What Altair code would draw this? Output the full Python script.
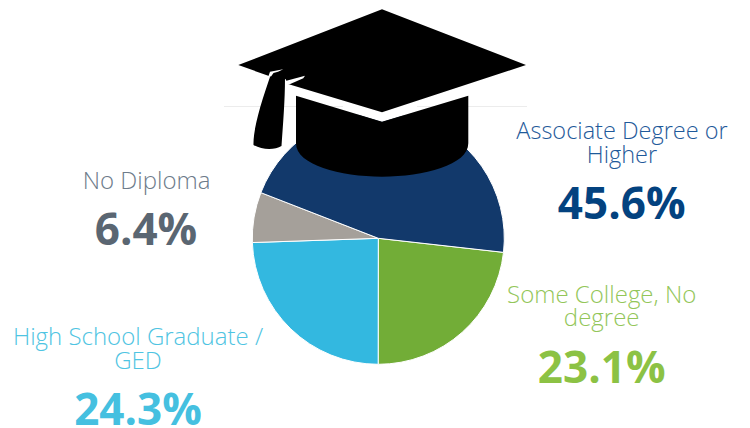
import math
import altair as alt
import pandas as pd

categories = ["Some College, No degree", "High School Graduate / GED", "No Diploma", "Associate Degree or Higher"]
values = [23.1, 24.3, 6.4, 45.6]
slice_colors = ["#72ad37", "#33b8e0", "#a5a09a", "#12396b"]

W, H = 734, 420
OX, OY = 8, 8
START = math.radians(96.4)

pie = pd.DataFrame({"cat": categories, "value": values, "idx": range(len(values))})
arcs = alt.Chart(pie).mark_arc(radius=126, stroke="white", strokeWidth=1).encode(
    x=alt.value(378.3 - OX), y=alt.value(238.3 - OY),
    theta=alt.Theta("value:Q", stack=True,
                    scale=alt.Scale(domain=[0, sum(values)], range=[START, START + 2 * math.pi])),
    order=alt.Order("idx:Q"),
    color=alt.Color("cat:N", scale=alt.Scale(domain=categories, range=slice_colors), legend=None),
)

def rule(x1, x2, y):
    return alt.Chart(pd.DataFrame({"a": [0]})).mark_rule(color="#ececec", strokeWidth=1).encode(
        x=alt.value(x1 - OX), x2=alt.value(x2 - OX), y=alt.value(y - OY))

def shape(path, color):
    return alt.Chart(pd.DataFrame({"a": [0]})).mark_point(
        shape=path, size=4, filled=True, fill=color, opacity=1, strokeWidth=0
    ).encode(x=alt.value(0), y=alt.value(0))

def p(page_x, page_y):
    return f"{page_x - OX:.1f},{page_y - OY:.1f}"

board = ("M" + p(238.3, 65) + "L" + p(382, 9.3) + "L" + p(526, 65) + "L" + p(382, 112.3)
         + "L" + p(288, 84) + "L" + p(285.5, 79) + "L" + p(269, 76) + "Z")
tassel = ("M" + p(271, 74) + "L" + p(285, 78) + "C" + p(285, 100) + " " + p(283, 125) + " " + p(281.5, 146)
          + "C" + p(275, 150) + " " + p(262, 150) + " " + p(253.5, 145)
          + "C" + p(253, 128) + " " + p(262, 100) + " " + p(271, 74) + "Z")
cap = ("M" + p(296, 95.7) + "L" + p(382, 121.7) + "L" + p(468.3, 95.7) + "L" + p(468.3, 143.3)
       + "C" + p(468.3, 165) + " " + p(424, 176.7) + " " + p(382, 176.7)
       + "C" + p(340, 176.7) + " " + p(296, 165) + " " + p(296, 143.3) + "Z")
band = ("M" + p(296, 88) + "L" + p(382, 110) + "L" + p(468.3, 88) + "L" + p(468.3, 96)
        + "L" + p(382, 122) + "L" + p(296, 96) + "Z")
sliver1 = ("M" + p(268.5, 76) + "L" + p(270, 71.7) + "L" + p(283.3, 69.3) + "L" + p(278, 71.8)
           + "L" + p(273.5, 73) + "L" + p(271, 76.5) + "Z")
sliver2 = ("M" + p(285.5, 81) + "L" + p(305, 75.7) + "L" + p(303.3, 78.3) + "L" + p(289.7, 84.3)
           + "L" + p(285.5, 85) + "Z")

def text(label, x, y, size, color, weight):
    return alt.Chart(pd.DataFrame({"t": [label]})).mark_text(
        font="Open Sans", fontSize=size, fontWeight=weight, color=color,
        align="center", baseline="alphabetic"
    ).encode(text="t:N", x=alt.value(x - OX), y=alt.value(y - OY))

LS, PS = 24, 44
texts = [
    text("No Diploma", 146.6, 189, LS, "#6d7b8a", 300),
    text("6.4%", 146, 245, PS, "#5a6672", 700),
    text("High School Graduate /", 138, 345, LS, "#4fc4e2", 300),
    text("GED", 138, 369, LS, "#4fc4e2", 300),
    text("24.3%", 138, 425, PS, "#45c0e0", 700),
    text("Associate Degree or", 622, 139, 23.5, "#1f5a9a", 300),
    text("Higher", 622, 163, 23.5, "#1f5a9a", 300),
    text("45.6%", 621.7, 219, PS, "#03427f", 700),
    text("Some College, No", 601.7, 302.7, LS, "#93c659", 300),
    text("degree", 601.7, 326, LS, "#93c659", 300),
    text("23.1%", 601.7, 383, PS, "#8cc244", 700),
]

chart = alt.layer(
    arcs, shape(band, "#ffffff"), rule(224, 343, 106.5), rule(417, 527, 106.5),
    shape(board, "#000000"), shape(tassel, "#000000"), shape(cap, "#000000"),
    shape(sliver1, "#ffffff"), shape(sliver2, "#ffffff"),
    *texts
).properties(width=W, height=H, padding=0, autosize=alt.AutoSizeParams(type="none")
).configure_view(stroke=None)

chart.save("out.html", embed_options={"renderer": "svg", "actions": False})
